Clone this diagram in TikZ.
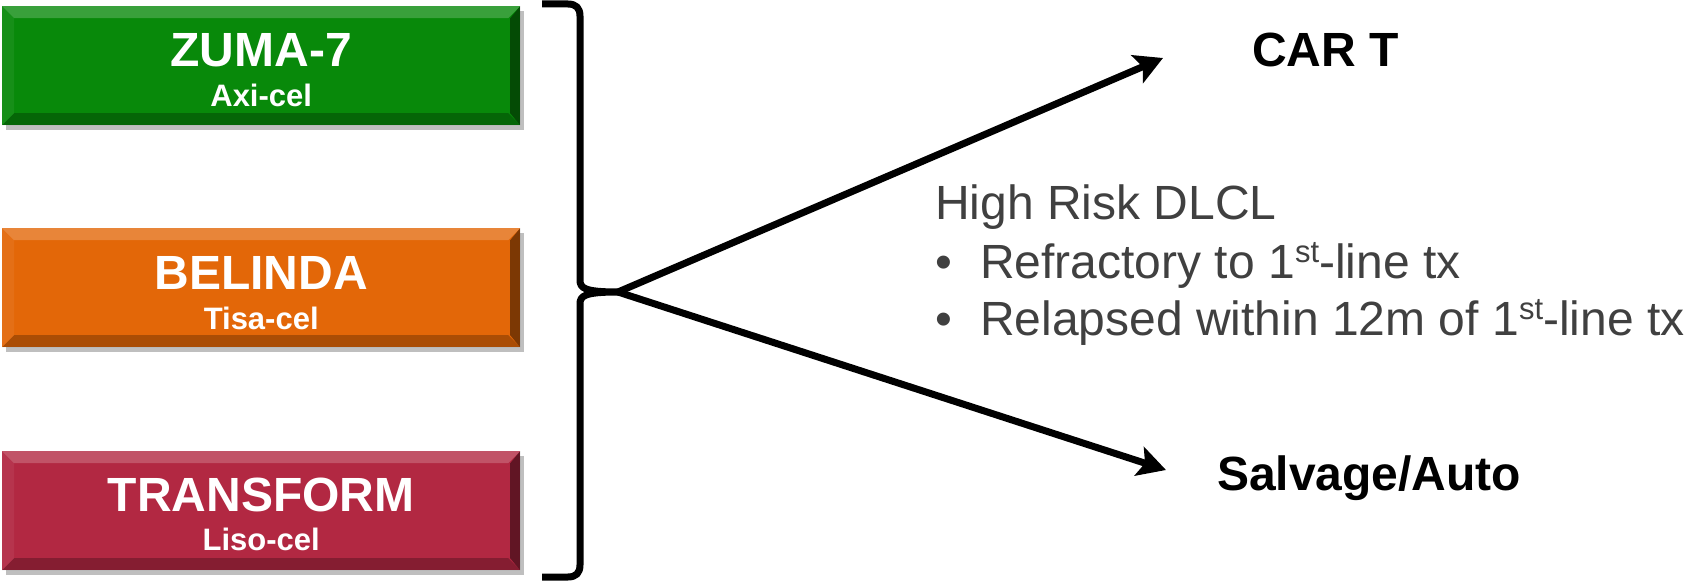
\documentclass[tikz,border=0pt]{standalone}
\usepackage{fontspec}
\setmainfont{Liberation Sans}
\usetikzlibrary{arrows.meta,shadows}
\definecolor{zgreen}{RGB}{8,137,10}
\definecolor{borange}{RGB}{227,103,8}
\definecolor{tred}{RGB}{178,40,66}
\definecolor{txtgray}{RGB}{64,64,64}
\newcommand\bigf{\fontsize{48}{58}\selectfont}
\newcommand\subf{\fontsize{31}{37}\selectfont}
\newcommand\supst{\raisebox{16pt}{\fontsize{31}{37}\selectfont st}}
\begin{document}
\begin{tikzpicture}[x=1pt,y=-1pt,
  trialbox/.style={draw=none, fill=#1, minimum width=518pt, minimum height=119pt,
    inner sep=0pt, anchor=north west,
    drop shadow={shadow xshift=4pt, shadow yshift=-5pt, fill=black, opacity=0.25},
    path picture={
      \coordinate (nw) at (path picture bounding box.north west);
      \coordinate (ne) at (path picture bounding box.north east);
      \coordinate (sw) at (path picture bounding box.south west);
      \coordinate (se) at (path picture bounding box.south east);
      \fill[white,opacity=0.2] (nw) -- (ne) -- ([shift={(-12pt,-12pt)}]ne) -- ([shift={(12pt,-12pt)}]nw) -- cycle;
      \fill[white,opacity=0.06] (nw) -- ([shift={(12pt,-12pt)}]nw) -- ([shift={(12pt,12pt)}]sw) -- (sw) -- cycle;
      \fill[black,opacity=0.25] (sw) -- ([shift={(12pt,12pt)}]sw) -- ([shift={(-12pt,12pt)}]se) -- (se) -- cycle;
      \fill[black,opacity=0.45] (ne) -- (se) -- ([shift={(-10pt,12pt)}]se) -- ([shift={(-10pt,-12pt)}]ne) -- cycle;
    }},
  boxtitle/.style={anchor=base, inner sep=0pt, text=white, font=\bigf\bfseries},
  boxsub/.style={anchor=base, inner sep=0pt, text=white, font=\subf\bfseries},
  outcome/.style={anchor=base west, inner sep=0pt, text=black, font=\bigf\bfseries},
  risktext/.style={anchor=base west, inner sep=0pt, text=txtgray, font=\bigf},
  bracestyle/.style={line width=7pt, line join=round, line cap=butt},
  arrowstyle/.style={line width=7pt, line join=round, -{Stealth[length=28pt,width=30pt,inset=6pt]}}
]
\useasboundingbox (0,0) rectangle (1689,583);

% boxes
\node[trialbox=zgreen] (zuma) at (2,6) {};
\node[trialbox=borange] (belinda) at (2,228) {};
\node[trialbox=tred] (transform) at (2,451) {};

\node[boxtitle] (zumaT) at ([yshift=-61pt]zuma.north) {ZUMA-7};
\node[boxsub] (zumaS) at ([yshift=-101pt]zuma.north) {Axi-cel};
\node[boxtitle] (belindaT) at ([yshift=-61pt]belinda.north) {BELINDA};
\node[boxsub] (belindaS) at ([yshift=-101pt]belinda.north) {Tisa-cel};
\node[boxtitle] (transformT) at ([yshift=-60pt]transform.north) {TRANSFORM};
\node[boxsub] (transformS) at ([yshift=-99pt]transform.north) {Liso-cel};

% brace
\coordinate (tip) at (618,292);
\draw[bracestyle] (542,4) -- (568,4) .. controls (576,4) and (580,8) .. (580,16)
  -- (580,280) .. controls (580,288) and (584,292) .. (tip)
  .. controls (584,292) and (580,296) .. (580,304)
  -- (580,565) .. controls (580,573) and (576,577) .. (568,577) -- (542,577);

% outcomes
\node[outcome] (cart) at (1252,67) {CAR T};
\node[outcome] (salv) at (1217,490) {Salvage/Auto};
\coordinate (cartend) at (1163,58);
\coordinate (salvend) at (1166,470);
\draw[arrowstyle] (tip) -- (cartend);
\draw[arrowstyle] (tip) -- (salvend);

% risk text
\node[risktext] (hr) at (935,219) {High Risk DLCL};
\node[risktext] (bul1) at (935,278) {•};
\node[risktext] (r1) at (980,278) {Refractory to 1\supst-line tx};
\node[risktext] (bul2) at (935,335) {•};
\node[risktext] (r2) at (980,335) {Relapsed within 12m of 1\supst-line tx};
\end{tikzpicture}
\end{document}
